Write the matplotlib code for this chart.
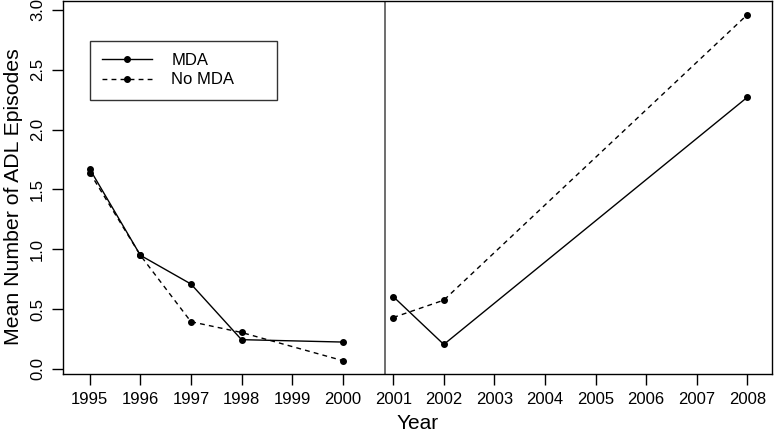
import matplotlib
matplotlib.use("Agg")
import matplotlib.pyplot as plt
from matplotlib.lines import Line2D

plt.rcParams['font.family'] = ['Liberation Sans', 'DejaVu Sans']

years_early = [1995, 1996, 1997, 1998, 2000]
years_late = [2001, 2002, 2008]
mda_early = [1.67, 0.95, 0.71, 0.245, 0.225]
nomda_early = [1.64, 0.95, 0.395, 0.305, 0.07]
mda_late = [0.605, 0.205, 2.27]
nomda_late = [0.43, 0.575, 2.96]
x_ticks = list(range(1995, 2009))
y_ticks = [0.0, 0.5, 1.0, 1.5, 2.0, 2.5, 3.0]
divider_year = 2000.84

fig = plt.figure(figsize=(7.74, 4.34), dpi=100)
ax = fig.add_axes([63/774, 1 - 374/434, (772-63)/774, (374-1)/434])

ms = 4.0
dash = (0, (3.5, 3))
ax.plot(years_early, mda_early, '-', color='black', lw=1, marker='o', ms=ms)
ax.plot(years_late, mda_late, '-', color='black', lw=1, marker='o', ms=ms)
ax.plot(years_early, nomda_early, color='black', lw=1, ls=dash, marker='o', ms=ms)
ax.plot(years_late, nomda_late, color='black', lw=1, ls=dash, marker='o', ms=ms)
ax.axvline(divider_year, color='#555555', lw=1.2)

ax.set_xlim(1994.47, 2008.49)
ax.set_ylim(-0.042, 3.075)
ax.set_xticks(x_ticks)
ax.set_xticklabels([str(x) for x in x_ticks])
ax.set_yticks(y_ticks)
ax.set_yticklabels([f"{v:.1f}" for v in y_ticks], rotation=90, va='center')
ax.tick_params(direction='out', length=8, width=1, labelsize=12, pad=5, colors='black')
for s in ax.spines.values():
    s.set_linewidth(1)
    s.set_color('black')

ax.set_xlabel('Year', fontsize=15, labelpad=5)
ax.set_ylabel('Mean Number of ADL Episodes', fontsize=15.3)
ax.yaxis.set_label_coords(-40/709, (374-197)/373)

handles = [Line2D([], [], color='black', lw=1, marker='o', ms=ms),
           Line2D([], [], color='black', lw=1, ls=dash, marker='o', ms=ms)]
leg = ax.legend(handles, ['MDA', 'No MDA'], loc='upper left',
                bbox_to_anchor=(90/774, 1 - 98/434, 187/774, 57/434),
                bbox_transform=fig.transFigure, mode='expand',
                fontsize=12, frameon=True, fancybox=False, edgecolor='black',
                handlelength=3.0, handletextpad=1.15, labelspacing=0.27,
                borderpad=0.72, borderaxespad=0)
leg.get_frame().set_linewidth(1)

fig.savefig('out.png', dpi=100)
